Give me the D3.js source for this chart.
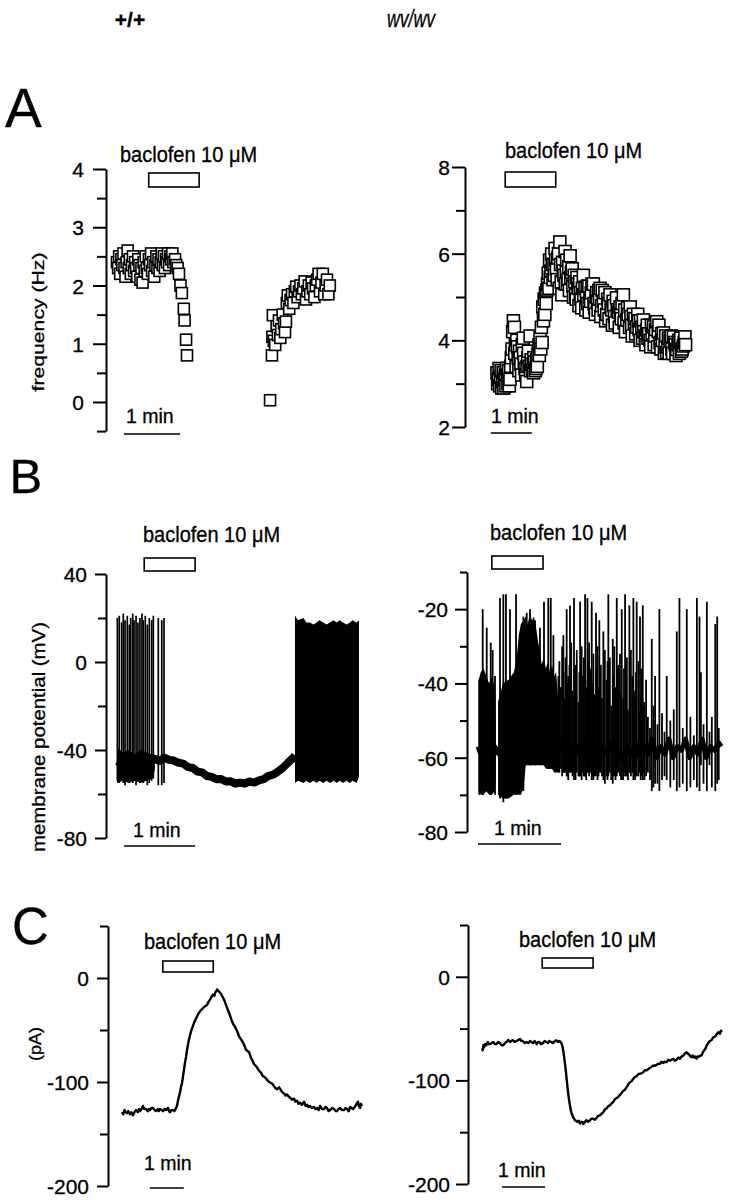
<!DOCTYPE html>
<html><head><meta charset="utf-8">
<script src="https://cdn.jsdelivr.net/npm/d3@7"></script>
<style>
body{margin:0;background:#fff;}
svg{display:block;}
svg text{stroke:#000;stroke-width:0.3px;}
</style></head><body>
<svg id="chart" width="730" height="1200"></svg>
<script>
// ---------------- DATA ----------------
const columnTitles = ["+/+", "wv/wv"];
const panelLetters = ["A", "B", "C"];
const drugLabel = "baclofen 10 \u03BCM";
const scaleLabel = "1 min";
const yTitles = ["frequency (Hz)", "membrane potential (mV)", "(pA)"];

// Panel A: instantaneous firing frequency (time s, Hz)
const freqWT = [[0,2.4],[1.2,2.3],[2.3,2.5],[3.4,2.2],[4.6,2.45],[5.7,2.35],[6.9,2.55],[8,2.3],[9.1,2.15],[10.3,2.4],[11.4,2.6],[12.6,2.3],[13.7,2.45],[14.8,2.2],[16,2.35],[17.1,2.5],[18.3,2.25],[19.4,2.4],[20.5,2.3],[21.7,2.15],[22.8,2.45],[24,2.35],[25.1,2.1],[26.2,2.3],[27.4,2.05],[28.5,2.4],[29.7,2.25],[30.8,2.5],[31.9,2.3],[33.1,2.2],[34.2,2.45],[35.4,2.35],[36.5,2.55],[37.6,2.25],[38.8,2.4],[39.9,2.15],[41.1,2.35],[42.2,2.5],[43.3,2.3],[44.5,2.45],[45.6,2.25],[46.8,2.4],[47.9,2.55],[49,2.35],[50.2,2.5],[51.3,2.3],[52.5,2.45],[53.6,2.4],[54.7,2.55],[55.9,2.35],[57,2.5],[58.2,2.45],[59.3,2.55],[60.4,2.4],[62.2,2.45],[63.5,2.35],[65,2.3],[66.4,2.2],[68,2.0],[69.5,1.87],[71.6,1.6],[72.4,1.4],[74,1.07],[75,0.8],
  [164,0.03],[166,0.8],[166.5,1.12],[167,1.49],[168,1.05],[169.5,0.98],[171,1.3],[172.5,1.15],[173.5,1.4],[175,1.1],[176,1.25],[177.5,1.5],[179,1.35],[180,1.2],[181,1.38],[182,1.7],[183,1.83],[184.5,1.6],[186,1.75],[187.5,1.85],[189,1.7],[190.5,1.9],[192,1.98],[193.5,1.8],[195,1.9],[196.5,2.0],[198,1.85],[199.5,1.95],[201,2.07],[202.5,1.76],[204,1.9],[205.5,2.0],[207,1.85],[208.5,2.05],[210,1.95],[211.5,1.8],[213,2.0],[214.5,2.1],[216,2.2],[217.5,1.9],[219,2.05],[220.5,2.2],[222,1.85],[223.5,2.0],[225,2.1],[226.5,1.85],[228,2.0]];

const freqWV = [[0,3.25],[1,3.0],[2,3.1],[3,3.35],[4,2.95],[5,3.15],[6,3.3],[7,2.9],[8,3.05],[9,3.25],[10,2.9],[11,3.1],[12,3.2],[13,2.95],[14,3.35],[15,3.2],[16,3.0],[17,3.3],[18,2.95],[19,3.1],[20,3.4],[21,3.6],[22,3.8],[23,4.2],[24,4.45],[25.5,4.3],[26,3.7],[27,3.9],[28,3.4],[29,4.0],[30,3.85],[31,3.6],[32,3.3],[33,3.75],[34,3.6],[35,3.45],[36,3.2],[37,3.9],[38.5,4.05],[39,3.7],[40,3.5],[41,3.35],[42,3.2],[43.5,3.05],[44,3.4],[45,3.6],[46,3.75],[47,3.4],[48.5,4.1],[49,3.3],[50,3.55],[51,3.45],[52,3.3],[53.5,3.25],[54,3.6],[55,3.5],[56,3.3],[57,3.35],[58,3.56],[59,3.4],[60,3.7],[61.5,3.9],[62,3.65],[63,4.06],[64,3.8],[65,4.3],[66,3.95],[67,4.77],[68,4.45],[69,4.95],[70,4.6],[71,5.1],[72,4.85],[73,5.16],[74,5.3],[75,5.55],[76,5.2],[77,5.85],[78,5.45],[79,5.6],[80,5.99],[81,5.75],[82,5.4],[83.5,5.75],[84,5.5],[85,6.12],[86,5.85],[87,5.65],[88,5.4],[89,5.9],[90,6.0],[91,5.2],[92,6.27],[93,5.75],[94,5.35],[95,5.05],[96,5.8],[97,5.6],[98,5.5],[99.6,6.05],[100,5.3],[101.5,5.6],[102,5.85],[103,5.3],[104,5.4],[105,5.7],[106,5.15],[107,5.95],[108,5.45],[109,5.57],[110,5.65],[111,5.25],[112,5.0],[113,5.5],[114,5.35],[115,5.05],[116,4.95],[117,5.45],[118,5.3],[119,5.2],[120,4.8],[121,5.35],[122,5.1],[123,4.95],[124,4.75],[125,5.2],[126.4,5.5],[127,5.05],[128.8,5.2],[130,4.7],[131,5.0],[132,5.25],[133,4.85],[134.5,5.25],[135,4.65],[136,4.98],[137,4.9],[138,5.1],[139,5.3],[141,5.3],[142,4.85],[143,4.75],[144,4.6],[145,5.0],[146,5.1],[147,4.9],[148,4.7],[149,5.15],[150,4.95],[151,5.2],[152,4.55],[153,4.8],[154,5.15],[155.6,4.9],[157,4.7],[158,5.1],[159,4.45],[160.6,4.6],[162,4.95],[163,4.85],[164,4.5],[165.4,5.05],[167,4.75],[168,4.7],[169,4.35],[170,4.9],[171,4.8],[172,4.55],[173,4.4],[175,4.98],[176,4.7],[178,4.65],[179,4.3],[180,4.77],[181,4.6],[182,4.5],[183,4.85],[185,5.05],[186,4.4],[187,4.7],[188,4.2],[190,4.47],[191,4.75],[192,4.6],[194,4.3],[195,4.77],[196,4.55],[197,4.35],[198,4.1],[199.6,4.6],[201,4.4],[202,4.5],[203,4.15],[204.5,4.31],[206,4.6],[207,4.45],[208,4.25],[209.4,4.0],[210,4.45],[212,4.3],[213,4.05],[214.2,4.47],[215,4.2],[217,4.1],[218,3.9],[219,4.24],[220,4.35],[221,4.05],[222,4.15],[224,4.0],[225,3.85],[226,4.35],[227,4.15],[229,4.31],[230,3.9],[231,4.1],[232,4.25],[233.8,4.43],[235,3.85],[236,4.2],[237,4.35],[238.7,3.95],[240,3.8],[241,4.15],[242,4.0],[243.5,4.17],[245,3.7],[246,3.85],[247,4.1],[248.4,3.72],[250,3.85],[251,4.05],[252,3.7],[253.3,4.0],[255,4.1],[256,3.8],[257,3.7],[258.2,4.08],[260,3.95],[261,3.9],[262,3.65],[263.1,3.79],[265,3.9],[266,4.0],[267,3.7],[268,3.95],[269,4.05],[270,3.75],[271,3.8],[272.8,3.87],[274,3.95],[275,4.08],[276,3.9]];

// Panel B (+/+): membrane potential, time s, mV  [t, peak, trough]
const vmWTSpikes = [[0.3,20,-54],[1.9,21,-55],[3.9,18,-53],[5.3,22,-55],[6.8,19,-56],[8.7,21,-54],[10.4,17,-55],[11.6,20,-53],[13.3,22,-55],[14.4,19,-54],[16.1,21,-56],[17.7,18,-54],[19.4,20,-55],[21.1,22,-53],[22.2,19,-55],[23.9,21,-54],[25.6,17,-56],[27.3,20,-55],[29.3,19,-54],[30.7,21,-53],[34.9,20,-56],[37.8,19,-56],[39.7,20,-55]];
const vmWTBurst1 = [[0,-39,-55],[5,-41,-54],[10,-40,-55],[15,-42,-54],[20,-40,-55],[25,-41,-54],[30,-42,-53],[32,-43,-49]];
const vmWTBurst2 = [[150.4,21,-55],[153,19,-54],[157.5,20,-55],[160,18,-54],[163,18,-55],[166,17,-54],[168.7,18,-55],[171,19,-54],[174.4,18,-55],[177,17,-54],[180,18,-55],[183,19,-54],[185.7,18,-55],[188,19,-54],[191,18,-55],[194,17,-54],[196.9,18,-55],[199,19,-54],[202.5,18,-55],[204.5,19,-52]];
const vmWTBase = [[0,-45],[4,-46],[8,-44],[12,-46],[16,-45],[20,-44],[24,-46],[28,-45],[32,-44],[36,-45],[40,-43.5],[44,-44.5],[48,-44.8],[52,-45.8],[56,-46.2],[60,-47.8],[64,-48.2],[68,-49.8],[72,-50.2],[76,-51.8],[80,-52.2],[84,-53.3],[88,-53.2],[92,-54.3],[96,-54.2],[100,-55.3],[104,-54.8],[108,-55.3],[112,-54.3],[116,-54.8],[120,-53.8],[124,-53.2],[128,-51.8],[132,-51.2],[136,-49.8],[140,-48.2],[144,-46],[148,-44],[150.4,-42.5]];

// Panel B (wv/wv)
const vmWVSpikes = [[0.9,-39,-70],[3.4,-20,-70],[6.3,-25,-69],[9.2,-29,-70],[10.6,-31,-69],[12.3,-38,-70],[15.9,-17,-71],[18.3,-16,-72],[20.2,-16,-71],[23.1,-20,-70],[27.5,-16,-70],[32.8,-22,-69],[35.2,-21,-62],[37.6,-20,-62],[41.2,-23,-62],[44.8,-25,-62],[47.7,-18,-62],[50.8,-17,-63],[52.6,-17,-63],[54.5,-27,-63],[58.1,-38,-64],[61.7,-27,-64],[64.1,-20,-65],[66.5,-19,-64],[69.4,-17,-66],[73.8,-18,-65],[77.4,-16,-65],[79.1,-17,-64],[82.2,-18,-66],[85.3,-21,-65],[87.7,-23,-64],[90.6,-26,-66],[94.2,-16,-65],[97.4,-28,-67],[100.3,-17,-65],[103.9,-20,-66],[106.3,-16,-65],[109.4,-19,-64],[112.3,-17,-66],[114.7,-18,-65],[117.1,-22,-64],[119.1,-19,-66],[121.5,-39,-65],[125.6,-28,-69],[128,-38,-67],[131.1,-20,-69],[136.4,-38,-66],[143.7,-26,-69],[145.6,-17,-68],[150.9,-20,-69],[158.2,-17,-68],[160.1,-22,-69],[161.1,-37,-62],[165.4,-18,-69],[167.3,-53,-62],[171.5,-24,-69],[172.9,-22,-67]];
const vmWVSmallSpikes = [[58.8,-34,-64],[59.9,-41,-63],[60.8,-30,-65],[61.9,-37,-64],[62.6,-44,-64],[63.3,-33,-64],[64.6,-40,-65],[65.2,-38,-66],[66.1,-35,-64],[67.4,-29,-64],[68.3,-42,-65],[69.6,-36,-64],[70.5,-35,-66],[71.4,-31,-64],[72.6,-45,-65],[73.3,-37,-65],[74.9,-30,-66],[75.8,-38,-64],[76.5,-33,-65],[77.6,-39,-65],[78.2,-41,-66],[79.6,-34,-64],[80.3,-29,-65],[81.2,-36,-64],[82.6,-40,-65],[83.4,-32,-66],[84.4,-43,-65],[85.6,-36,-64],[86.4,-30,-66],[87.1,-41,-65],[88.8,-35,-64],[89.6,-44,-65],[90.9,-37,-65],[91.7,-31,-67],[92.9,-39,-65],[93.6,-34,-66],[95.3,-33,-64],[96.3,-46,-66],[97.9,-38,-65],[98.5,-30,-65],[99.4,-41,-66],[100.8,-36,-64],[101.4,-35,-64],[102.6,-32,-65],[103.5,-42,-66],[104.9,-44,-66],[105.5,-36,-64],[106.9,-39,-65],[107.6,-33,-65],[108.4,-47,-66],[109.8,-40,-64],[110.5,-31,-65],[111.5,-38,-64],[112.9,-44,-65],[113.5,-42,-66],[114.2,-37,-65],[115.9,-34,-65],[116.4,-48,-64],[117.6,-43,-66],[118.2,-36,-65],[119.7,-46,-64],[120.3,-45,-66],[122.8,-49,-64],[124.3,-52,-66],[126.8,-46,-68],[129.7,-51,-67],[133,-48,-66],[134.8,-53,-65],[139,-50,-68],[141.5,-47,-66],[148,-52,-67],[153.5,-49,-68],[156,-54,-66],[163,-51,-67],[169,-49,-68],[174,-52,-66]];
const vmWVBurst1 = [[0.5,-39,-69],[2,-37,-70],[4,-36,-70],[6,-38,-69],[8,-40,-70],[10,-38,-70],[12,-41,-69],[12.8,-50,-66]];
const vmWVBurst2 = [[14.5,-45,-70],[18,-40,-71],[22,-39,-71],[26,-37,-70],[28,-33,-70],[29.5,-27,-70],[31,-24,-70],[33,-23,-68],[34.5,-22,-62],[36,-24,-62],[37.5,-21,-62],[39,-23,-62],[40.5,-22,-62],[42,-25,-62],[43.5,-29,-62],[44.8,-31,-62],[46,-35,-62],[47.5,-33,-62],[49,-36,-63],[50.5,-34,-63],[52,-37,-63],[53.5,-35,-63],[55,-38,-64],[56.5,-37,-64],[58,-45,-64]];
const vmWVBase = [[0,-57],[3,-60],[6,-56],[9,-61],[12,-57],[15,-59],[18,-60],[21,-57],[24,-61],[27,-58],[30,-60],[33,-57],[36,-59],[39,-56],[42,-60],[45,-58],[48,-61],[51,-57],[54,-59],[57,-60],[60,-56],[63,-59],[66,-58],[69,-61],[72,-57],[75,-59],[78,-56],[81,-60],[84,-58],[87,-61],[90,-57],[93,-59],[96,-56],[99,-60],[102,-58],[105,-61],[108,-57],[111,-59],[114,-56],[117,-60],[120,-57],[123,-59],[126,-55],[129,-60],[132,-57],[135,-59],[138,-55],[141,-60],[144,-57],[147,-58],[150,-55],[153,-60],[156,-57],[159,-59],[162,-55],[165,-60],[168,-57],[171,-58],[174,-56],[175.7,-57]];

// Panel C: holding current (time s, pA)
const currentWT = [[0,-129],[2.2,-131],[4.4,-127],[6.6,-129],[8.8,-130],[11,-128],[14,-131],[16.5,-129],[19.4,-132],[22,-129],[24.7,-127],[28,-129],[30,-126],[31.8,-128],[34.5,-126],[37,-123],[39.5,-126],[42.4,-126],[45.5,-128],[47.5,-126],[49.4,-127],[52,-125],[54.7,-125],[57.5,-127],[60,-128],[63.5,-126],[65,-128],[67,-126],[70,-127],[72.4,-128],[75,-126],[77.7,-127],[81,-125],[83,-128],[84.7,-129],[87.5,-127],[90,-127],[92.5,-128],[95.3,-125],[97,-123],[98.8,-118],[100.5,-114],[102.4,-110],[104,-105],[105.9,-101],[107.5,-95],[109.4,-88],[111,-82],[113,-76],[114.8,-69],[116.5,-64],[118.2,-59],[120,-55],[122.5,-50],[125.3,-46],[128,-42],[130.6,-39],[134,-35],[137.7,-32],[139.5,-31],[141,-30],[142.8,-29],[144.7,-28],[147,-27],[150,-26],[152.5,-23],[155.3,-21],[158,-18],[160.6,-16],[163,-17],[164.5,-14],[166,-13],[167.8,-11],[169.4,-12],[171,-13],[173,-14],[175.5,-16],[178.3,-19],[181,-22],[183.6,-26],[187,-31],[190.6,-36],[193,-40],[196,-44],[199.5,-47],[203,-51],[206.5,-56],[210,-59],[212.5,-61],[215.3,-64],[218,-68],[220.6,-70],[224,-71],[227.7,-77],[230,-79],[233,-83],[235.5,-84],[238.3,-86],[241.5,-89],[245.3,-91],[248,-94],[250.6,-95],[253,-96],[256,-98],[259.5,-100],[263,-101],[265.5,-102],[268.3,-104],[271,-106],[273.6,-107],[277,-105],[280.6,-108],[283,-110],[286,-111],[288.5,-113],[291.2,-112],[294,-114],[296.5,-115],[300,-117],[303.6,-116],[306,-119],[309,-118],[311.5,-121],[314.2,-120],[317.5,-122],[321.3,-119],[324,-123],[326.5,-122],[329,-124],[331.8,-123],[335,-125],[338.9,-124],[341.5,-126],[344.2,-125],[347,-127],[349.5,-123],[353,-126],[356.5,-126],[359,-124],[361.8,-125],[364.5,-128],[367,-127],[371,-125],[374.2,-126],[377,-128],[379.5,-128],[382,-126],[384.8,-125],[388,-127],[391.8,-127],[394.5,-125],[397,-126],[400,-128],[402.4,-124],[405,-125],[407.7,-126],[410.5,-124],[413,-122],[415,-120],[416.5,-119],[418,-123],[420,-125],[421.8,-121],[423.5,-123]];
const currentWV = [[0,-69],[1,-71],[2,-66],[3,-68],[4.2,-65],[6,-66],[8,-63],[9.5,-65],[11,-65],[13.5,-64],[15.8,-63],[18,-65],[20,-65],[22.5,-63],[25,-64],[27.5,-66],[29.8,-66],[32,-64],[34,-63],[36.5,-61],[39,-63],[41,-62],[43,-61],[45.5,-63],[48,-62],[50.5,-61],[53,-60],[55,-62],[57,-62],[60,-64],[62.3,-63],[64.5,-64],[67,-62],[69,-63],[71,-64],[73.5,-62],[76.3,-65],[78,-63],[80,-63],[82.5,-65],[85,-64],[87.5,-62],[90.2,-63],[92,-64],[94,-62],[96.5,-63],[99,-64],[101.5,-62],[104.2,-61.5],[106,-63],[108,-62],[109.8,-63],[111.2,-64.7],[112.5,-68],[113.5,-72],[114.7,-78],[115.8,-84],[117,-91],[118,-98],[119.2,-106],[120.4,-113],[121.5,-119],[122.7,-124],[124,-129],[125.1,-132],[126.3,-134],[127.5,-136],[128.6,-137],[129.7,-138.5],[131.5,-139],[133,-140],[135,-139],[136.7,-141.7],[138.5,-140],[140,-140],[141.5,-142],[143,-141],[144.5,-139],[146,-138.5],[148,-140],[150,-139],[152.5,-137],[155.3,-137],[157.5,-138],[160,-136],[162.5,-134],[164.6,-133.7],[167,-132],[169,-131],[171.5,-128],[173.9,-127],[176,-125],[178.5,-124],[181,-122],[183.2,-120.8],[185.5,-118],[188,-117],[190,-116],[192.5,-114],[195,-112],[197,-110],[199.5,-109],[201.8,-106.4],[204,-104],[206,-102],[208.5,-101],[211.1,-98.4],[213,-97],[215.5,-96],[218,-94],[220.4,-93.6],[223,-93],[225,-92],[227.5,-90],[229.7,-90.4],[232,-89],[234,-88],[236.5,-87],[239,-85.6],[241,-86],[243.5,-85],[246,-84],[248.3,-84],[250.5,-82],[253,-83],[255,-82],[257.6,-82.4],[260,-80],[262,-81],[264.5,-80],[266.9,-79.2],[269,-81],[271.5,-80],[274,-78],[276.2,-79],[278.5,-77],[281,-76],[283,-74],[285.5,-72.8],[287,-74],[289,-75],[291,-77],[292.5,-77.6],[294,-76],[296,-78],[298,-77],[299.5,-79],[301,-77],[303,-77],[305,-76],[306.5,-75.8],[308,-73],[310,-71],[312,-69],[313.4,-66.3],[315.5,-64],[318,-62],[320.5,-61],[322.7,-58.3],[324.5,-58],[326,-57],[328,-55],[329.6,-53.5],[331,-54],[332,-55],[333.3,-52],[334.4,-53.5]];

// application windows and scale bars (time s)
const drugWindows = {A1:[34,88], A2:[12,86], B1:[23,66], B2:[10,47], C1:[72,161], C2:[84,155]};
const scaleBars   = {A1:[7.5,67.5], A2:[-9,51], B1:[6,66], B2:[0,60], C1:[49,109], C2:[28,88]};
const yTicks = {
  A1:{major:[0,1,2,3,4], minor:[-0.5,0.5,1.5,2.5,3.5]},
  A2:{major:[2,4,6,8], minor:[3,5,7]},
  B1:{major:[-80,-40,0,40], minor:[-60,-20,20]},
  B2:{major:[-80,-60,-40,-20], minor:[-70,-50,-30,-10]},
  C1:{major:[-200,-100,0], minor:[-150,-50,50]},
  C2:{major:[-200,-100,0], minor:[-150,-50,50]}
};

// ---------------- LAYOUT ----------------
const FONT = '"Liberation Sans", Arial, Helvetica, sans-serif';
const svg = d3.select('#chart');

const P = {
  A1:{x:d3.scaleLinear().domain([0,240]).range([117,341]), y:d3.scaleLinear().domain([-0.5,4]).range([431.1,169]),
      axisX:106, majorLen:13, minorLen:9, pad:9, rectY:[173,187], drugText:[120,162], barY:434, minText:[126,423]},
  A2:{x:d3.scaleLinear().domain([0,280]).range([497,688.3]), y:d3.scaleLinear().domain([2,8]).range([427,167]),
      axisX:465, majorLen:13, minorLen:9, pad:2, rectY:[172,187], drugText:[505,158], barY:433, minText:[491,423]},
  B1:{x:d3.scaleLinear().domain([0,205]).range([117,359.6]), y:d3.scaleLinear().domain([-80,40]).range([838,574]),
      axisX:106, majorLen:11, minorLen:8, pad:8, rectY:[558,571], drugText:[143,542], barY:846, minText:[133,837]},
  B2:{x:d3.scaleLinear().domain([0,176]).range([478,721.5]), y:d3.scaleLinear().domain([-80,-10]).range([832,572]),
      axisX:467, majorLen:12, minorLen:7, pad:7, rectY:[556,569], drugText:[490,540], barY:844, minText:[494,835]},
  C1:{x:d3.scaleLinear().domain([0,424]).range([122,362.3]), y:d3.scaleLinear().domain([-200,50]).range([1186,926]),
      axisX:108, majorLen:11, minorLen:8, pad:8, rectY:[961,972], drugText:[144,949], barY:1188, minText:[144,1170]},
  C2:{x:d3.scaleLinear().domain([0,335]).range([482,722.1]), y:d3.scaleLinear().domain([-200,50]).range([1184,925]),
      axisX:468, majorLen:12, minorLen:8, pad:6, rectY:[958,968], drugText:[519,947], barY:1187, minText:[498,1177]}
};

// ---------------- DRAW ----------------
function drawAxis(key){
  const p = P[key], t = yTicks[key];
  const g = svg.append('g').attr('transform',`translate(${p.axisX},0)`)
    .call(d3.axisLeft(p.y).tickValues(t.major).tickSize(p.majorLen).tickSizeOuter(0).tickPadding(p.pad).tickFormat(d=>String(d)));
  const gm = svg.append('g').attr('transform',`translate(${p.axisX},0)`)
    .call(d3.axisLeft(p.y).tickValues(t.minor).tickSize(p.minorLen).tickSizeOuter(0).tickFormat(''));
  gm.select('.domain').remove();
  [g,gm].forEach(a=>a.selectAll('path,line').attr('stroke','#000').attr('stroke-width',2));
  g.selectAll('text').attr('font-size',21).attr('font-family',FONT).attr('fill','#000').attr('dy','0.36em');
}

function drawDecor(key){
  const p = P[key];
  const w = drugWindows[key], s = scaleBars[key];
  svg.append('g').attr('transform',`translate(${p.drugText[0]},${p.drugText[1]}) scale(1,1.12)`)
    .append('text').attr('font-family',FONT).attr('font-size',20).attr('fill','#000').text(drugLabel);
  svg.append('rect').attr('x',p.x(w[0])).attr('y',p.rectY[0]).attr('width',p.x(w[1])-p.x(w[0])).attr('height',p.rectY[1]-p.rectY[0])
    .attr('fill','#fff').attr('stroke','#000').attr('stroke-width',1.6);
  svg.append('line').attr('x1',p.x(s[0])).attr('x2',p.x(s[1])).attr('y1',p.barY).attr('y2',p.barY).attr('stroke','#000').attr('stroke-width',1.5);
  svg.append('text').attr('x',p.minText[0]).attr('y',p.minText[1]).attr('font-family',FONT).attr('font-size',19.5).attr('fill','#000').text(scaleLabel);
}

function drawSquares(key, data, size){
  const p = P[key];
  const rows = data.slice().sort((a,b)=>a[0]-b[0]);
  svg.append('g').selectAll('rect').data(rows).join('rect')
    .attr('x',d=>p.x(d[0])-size/2).attr('y',d=>p.y(d[1])-size/2)
    .attr('width',size).attr('height',size)
    .attr('fill','#fff').attr('stroke','#000').attr('stroke-width',1.6);
}

function drawBand(key, data){
  const p = P[key];
  svg.append('path').datum(data)
    .attr('d', d3.area().x(d=>p.x(d[0])).y0(d=>p.y(d[2])).y1(d=>p.y(d[1])))
    .attr('fill','#000');
}
function drawLine(key, data, sw){
  const p = P[key];
  svg.append('path').datum(data)
    .attr('d', d3.line().x(d=>p.x(d[0])).y(d=>p.y(d[1])))
    .attr('fill','none').attr('stroke','#000').attr('stroke-width',sw).attr('stroke-linejoin','round');
}
function drawSpikes(key, data, sw){
  const p = P[key];
  svg.append('g').selectAll('line').data(data).join('line')
    .attr('x1',d=>p.x(d[0])).attr('x2',d=>p.x(d[0]))
    .attr('y1',d=>p.y(d[2])).attr('y2',d=>p.y(d[1]))
    .attr('stroke','#000').attr('stroke-width',sw);
}

// headers
svg.append('text').attr('x',130).attr('y',27).attr('text-anchor','middle').attr('font-family',FONT)
  .attr('font-size',21).attr('font-weight','bold').attr('fill','#000').text(columnTitles[0]);
svg.append('text').attr('x',387).attr('y',27).attr('font-family',FONT).attr('font-style','italic')
  .attr('font-size',23).attr('textLength',48).attr('lengthAdjust','spacingAndGlyphs').attr('fill','#000').text(columnTitles[1]);

// panel letters
[[panelLetters[0],5,127,55],[panelLetters[1],9.5,493,49],[panelLetters[2],12,944,51]].forEach(([t,x,y,fs])=>{
  svg.append('text').attr('x',x).attr('y',y).attr('font-family',FONT).attr('font-size',fs).attr('fill','#000').text(t);
});

// y titles
[[yTitles[0],44,322,17,139],[yTitles[1],45,737,17.5,230],[yTitles[2],41,1044,17,34]].forEach(([t,x,y,fs,len])=>{
  svg.append('text').attr('transform',`translate(${x},${y}) rotate(-90)`).attr('text-anchor','middle')
    .attr('font-family',FONT).attr('font-size',fs).attr('textLength',len).attr('lengthAdjust','spacingAndGlyphs')
    .attr('fill','#000').text(t);
});

['A1','A2','B1','B2','C1','C2'].forEach(k=>{ drawAxis(k); drawDecor(k); });

// Panel A
drawSquares('A1', freqWT, 11);
drawSquares('A2', freqWV, 12);

// Panel B
drawBand('B1', vmWTBurst1);
drawLine('B1', vmWTBase, 8);
drawSpikes('B1', vmWTSpikes, 1.7);
drawBand('B1', vmWTBurst2);

drawBand('B2', vmWVBurst1);
drawBand('B2', vmWVBurst2);
drawLine('B2', vmWVBase, 5);
drawSpikes('B2', vmWVSmallSpikes, 1.8);
drawSpikes('B2', vmWVSpikes, 1.8);

// Panel C
drawLine('C1', currentWT, 2.4);
drawLine('C2', currentWV, 2.4);
</script></body></html>
